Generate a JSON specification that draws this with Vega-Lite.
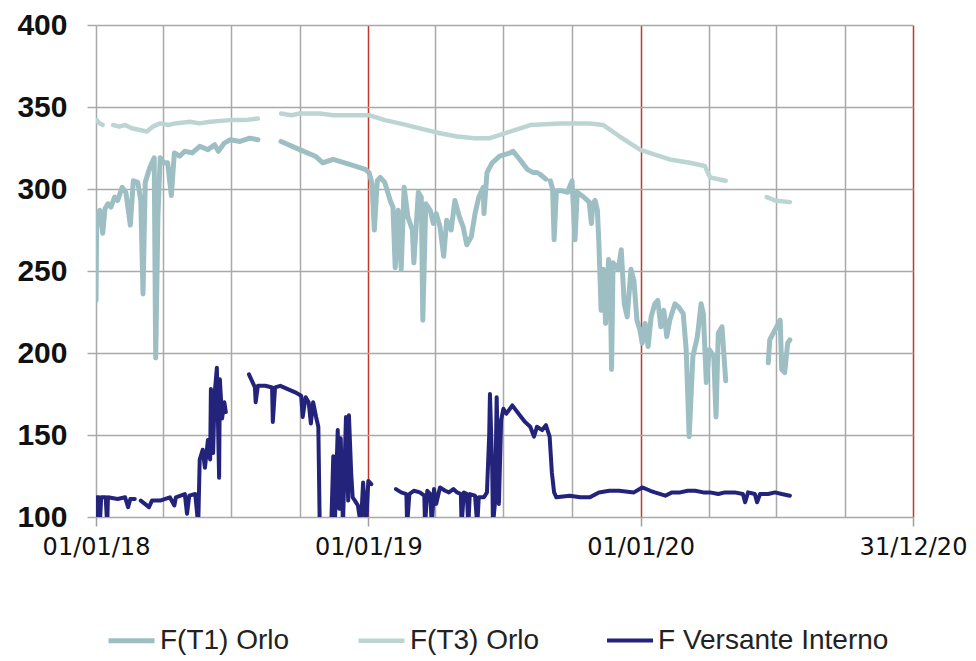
{
  "$schema": "https://vega.github.io/schema/vega-lite/v6.json",
  "width": 817,
  "height": 492,
  "autosize": {"type": "none"},
  "padding": {"left": 96, "top": 25, "right": 63, "bottom": 144},
  "background": "white",
  "config": {"view": {"stroke": null}},
  "datasets": {
    "rows": [
      {"s": "F(T1) Orlo", "d": "2018-01-01", "v": 232},
      {"s": "F(T1) Orlo", "d": "2018-01-02", "v": 283},
      {"s": "F(T1) Orlo", "d": "2018-01-06", "v": 287},
      {"s": "F(T1) Orlo", "d": "2018-01-10", "v": 273},
      {"s": "F(T1) Orlo", "d": "2018-01-13", "v": 288},
      {"s": "F(T1) Orlo", "d": "2018-01-17", "v": 291},
      {"s": "F(T1) Orlo", "d": "2018-01-21", "v": 289},
      {"s": "F(T1) Orlo", "d": "2018-01-26", "v": 295},
      {"s": "F(T1) Orlo", "d": "2018-01-30", "v": 293},
      {"s": "F(T1) Orlo", "d": "2018-02-05", "v": 301},
      {"s": "F(T1) Orlo", "d": "2018-02-10", "v": 298},
      {"s": "F(T1) Orlo", "d": "2018-02-16", "v": 278},
      {"s": "F(T1) Orlo", "d": "2018-02-20", "v": 305},
      {"s": "F(T1) Orlo", "d": "2018-02-26", "v": 304},
      {"s": "F(T1) Orlo", "d": "2018-03-02", "v": 293},
      {"s": "F(T1) Orlo", "d": "2018-03-05", "v": 236},
      {"s": "F(T1) Orlo", "d": "2018-03-08", "v": 304},
      {"s": "F(T1) Orlo", "d": "2018-03-14", "v": 313},
      {"s": "F(T1) Orlo", "d": "2018-03-20", "v": 319},
      {"s": "F(T1) Orlo", "d": "2018-03-22", "v": 197},
      {"s": "F(T1) Orlo", "d": "2018-03-25", "v": 283},
      {"s": "F(T1) Orlo", "d": "2018-03-28", "v": 319},
      {"s": "F(T1) Orlo", "d": "2018-04-02", "v": 316},
      {"s": "F(T1) Orlo", "d": "2018-04-07", "v": 316},
      {"s": "F(T1) Orlo", "d": "2018-04-12", "v": 296},
      {"s": "F(T1) Orlo", "d": "2018-04-16", "v": 322},
      {"s": "F(T1) Orlo", "d": "2018-04-23", "v": 320},
      {"s": "F(T1) Orlo", "d": "2018-04-30", "v": 323},
      {"s": "F(T1) Orlo", "d": "2018-05-10", "v": 322},
      {"s": "F(T1) Orlo", "d": "2018-05-20", "v": 326},
      {"s": "F(T1) Orlo", "d": "2018-05-31", "v": 324},
      {"s": "F(T1) Orlo", "d": "2018-06-09", "v": 327},
      {"s": "F(T1) Orlo", "d": "2018-06-14", "v": 323},
      {"s": "F(T1) Orlo", "d": "2018-06-22", "v": 328},
      {"s": "F(T1) Orlo", "d": "2018-06-30", "v": 330},
      {"s": "F(T1) Orlo", "d": "2018-07-13", "v": 329},
      {"s": "F(T1) Orlo", "d": "2018-07-26", "v": 331},
      {"s": "F(T1) Orlo", "d": "2018-08-06", "v": 330},
      {"s": "F(T1) Orlo", "d": "2018-08-19", "v": null},
      {"s": "F(T1) Orlo", "d": "2018-09-06", "v": 329},
      {"s": "F(T1) Orlo", "d": "2018-10-01", "v": 324},
      {"s": "F(T1) Orlo", "d": "2018-10-22", "v": 320},
      {"s": "F(T1) Orlo", "d": "2018-11-01", "v": 316},
      {"s": "F(T1) Orlo", "d": "2018-11-15", "v": 318},
      {"s": "F(T1) Orlo", "d": "2018-12-07", "v": 315},
      {"s": "F(T1) Orlo", "d": "2018-12-28", "v": 312},
      {"s": "F(T1) Orlo", "d": "2019-01-02", "v": 310},
      {"s": "F(T1) Orlo", "d": "2019-01-05", "v": 305},
      {"s": "F(T1) Orlo", "d": "2019-01-06", "v": 302},
      {"s": "F(T1) Orlo", "d": "2019-01-09", "v": 275},
      {"s": "F(T1) Orlo", "d": "2019-01-13", "v": 305},
      {"s": "F(T1) Orlo", "d": "2019-01-17", "v": 307},
      {"s": "F(T1) Orlo", "d": "2019-01-23", "v": 304},
      {"s": "F(T1) Orlo", "d": "2019-01-27", "v": 298},
      {"s": "F(T1) Orlo", "d": "2019-01-31", "v": 292},
      {"s": "F(T1) Orlo", "d": "2019-02-03", "v": 289},
      {"s": "F(T1) Orlo", "d": "2019-02-06", "v": 252},
      {"s": "F(T1) Orlo", "d": "2019-02-10", "v": 287},
      {"s": "F(T1) Orlo", "d": "2019-02-14", "v": 251},
      {"s": "F(T1) Orlo", "d": "2019-02-18", "v": 301},
      {"s": "F(T1) Orlo", "d": "2019-02-23", "v": 283},
      {"s": "F(T1) Orlo", "d": "2019-03-01", "v": 275},
      {"s": "F(T1) Orlo", "d": "2019-03-03", "v": 255},
      {"s": "F(T1) Orlo", "d": "2019-03-09", "v": 298},
      {"s": "F(T1) Orlo", "d": "2019-03-13", "v": 295},
      {"s": "F(T1) Orlo", "d": "2019-03-15", "v": 220},
      {"s": "F(T1) Orlo", "d": "2019-03-19", "v": 291},
      {"s": "F(T1) Orlo", "d": "2019-03-25", "v": 287},
      {"s": "F(T1) Orlo", "d": "2019-03-29", "v": 279},
      {"s": "F(T1) Orlo", "d": "2019-04-02", "v": 285},
      {"s": "F(T1) Orlo", "d": "2019-04-07", "v": 277},
      {"s": "F(T1) Orlo", "d": "2019-04-12", "v": 259},
      {"s": "F(T1) Orlo", "d": "2019-04-16", "v": 281},
      {"s": "F(T1) Orlo", "d": "2019-04-22", "v": 275},
      {"s": "F(T1) Orlo", "d": "2019-04-27", "v": 293},
      {"s": "F(T1) Orlo", "d": "2019-05-03", "v": 283},
      {"s": "F(T1) Orlo", "d": "2019-05-08", "v": 277},
      {"s": "F(T1) Orlo", "d": "2019-05-13", "v": 266},
      {"s": "F(T1) Orlo", "d": "2019-05-19", "v": 271},
      {"s": "F(T1) Orlo", "d": "2019-05-24", "v": 285},
      {"s": "F(T1) Orlo", "d": "2019-05-29", "v": 295},
      {"s": "F(T1) Orlo", "d": "2019-06-04", "v": 301},
      {"s": "F(T1) Orlo", "d": "2019-06-05", "v": 285},
      {"s": "F(T1) Orlo", "d": "2019-06-09", "v": 310},
      {"s": "F(T1) Orlo", "d": "2019-06-16", "v": 316},
      {"s": "F(T1) Orlo", "d": "2019-06-26", "v": 320},
      {"s": "F(T1) Orlo", "d": "2019-07-10", "v": 322},
      {"s": "F(T1) Orlo", "d": "2019-07-14", "v": 323},
      {"s": "F(T1) Orlo", "d": "2019-07-23", "v": 318},
      {"s": "F(T1) Orlo", "d": "2019-08-02", "v": 312},
      {"s": "F(T1) Orlo", "d": "2019-08-10", "v": 310},
      {"s": "F(T1) Orlo", "d": "2019-08-15", "v": 310},
      {"s": "F(T1) Orlo", "d": "2019-08-17", "v": null},
      {"s": "F(T1) Orlo", "d": "2019-08-19", "v": 309},
      {"s": "F(T1) Orlo", "d": "2019-08-27", "v": 306},
      {"s": "F(T1) Orlo", "d": "2019-08-30", "v": null},
      {"s": "F(T1) Orlo", "d": "2019-09-02", "v": 305},
      {"s": "F(T1) Orlo", "d": "2019-09-05", "v": 300},
      {"s": "F(T1) Orlo", "d": "2019-09-07", "v": 269},
      {"s": "F(T1) Orlo", "d": "2019-09-10", "v": 299},
      {"s": "F(T1) Orlo", "d": "2019-09-17", "v": 299},
      {"s": "F(T1) Orlo", "d": "2019-09-25", "v": 298},
      {"s": "F(T1) Orlo", "d": "2019-10-01", "v": 305},
      {"s": "F(T1) Orlo", "d": "2019-10-05", "v": 269},
      {"s": "F(T1) Orlo", "d": "2019-10-08", "v": 298},
      {"s": "F(T1) Orlo", "d": "2019-10-17", "v": 295},
      {"s": "F(T1) Orlo", "d": "2019-10-24", "v": 292},
      {"s": "F(T1) Orlo", "d": "2019-10-27", "v": 279},
      {"s": "F(T1) Orlo", "d": "2019-10-29", "v": 291},
      {"s": "F(T1) Orlo", "d": "2019-11-01", "v": 293},
      {"s": "F(T1) Orlo", "d": "2019-11-04", "v": 287},
      {"s": "F(T1) Orlo", "d": "2019-11-06", "v": 267},
      {"s": "F(T1) Orlo", "d": "2019-11-09", "v": 226},
      {"s": "F(T1) Orlo", "d": "2019-11-12", "v": 251},
      {"s": "F(T1) Orlo", "d": "2019-11-15", "v": 218},
      {"s": "F(T1) Orlo", "d": "2019-11-19", "v": 257},
      {"s": "F(T1) Orlo", "d": "2019-11-21", "v": 251},
      {"s": "F(T1) Orlo", "d": "2019-11-23", "v": 190},
      {"s": "F(T1) Orlo", "d": "2019-11-25", "v": 255},
      {"s": "F(T1) Orlo", "d": "2019-12-02", "v": 251},
      {"s": "F(T1) Orlo", "d": "2019-12-06", "v": 263},
      {"s": "F(T1) Orlo", "d": "2019-12-10", "v": 230},
      {"s": "F(T1) Orlo", "d": "2019-12-14", "v": 222},
      {"s": "F(T1) Orlo", "d": "2019-12-19", "v": 251},
      {"s": "F(T1) Orlo", "d": "2019-12-23", "v": 244},
      {"s": "F(T1) Orlo", "d": "2019-12-27", "v": 220},
      {"s": "F(T1) Orlo", "d": "2019-12-31", "v": 214},
      {"s": "F(T1) Orlo", "d": "2020-01-03", "v": 206},
      {"s": "F(T1) Orlo", "d": "2020-01-07", "v": 218},
      {"s": "F(T1) Orlo", "d": "2020-01-11", "v": 204},
      {"s": "F(T1) Orlo", "d": "2020-01-15", "v": 222},
      {"s": "F(T1) Orlo", "d": "2020-01-20", "v": 230},
      {"s": "F(T1) Orlo", "d": "2020-01-24", "v": 232},
      {"s": "F(T1) Orlo", "d": "2020-01-28", "v": 216},
      {"s": "F(T1) Orlo", "d": "2020-02-01", "v": 226},
      {"s": "F(T1) Orlo", "d": "2020-02-05", "v": 210},
      {"s": "F(T1) Orlo", "d": "2020-02-09", "v": 220},
      {"s": "F(T1) Orlo", "d": "2020-02-16", "v": 230},
      {"s": "F(T1) Orlo", "d": "2020-02-21", "v": 228},
      {"s": "F(T1) Orlo", "d": "2020-02-27", "v": 224},
      {"s": "F(T1) Orlo", "d": "2020-03-02", "v": 202},
      {"s": "F(T1) Orlo", "d": "2020-03-06", "v": 149},
      {"s": "F(T1) Orlo", "d": "2020-03-11", "v": 198},
      {"s": "F(T1) Orlo", "d": "2020-03-17", "v": 210},
      {"s": "F(T1) Orlo", "d": "2020-03-22", "v": 230},
      {"s": "F(T1) Orlo", "d": "2020-03-25", "v": 224},
      {"s": "F(T1) Orlo", "d": "2020-03-29", "v": 182},
      {"s": "F(T1) Orlo", "d": "2020-04-02", "v": 202},
      {"s": "F(T1) Orlo", "d": "2020-04-08", "v": 198},
      {"s": "F(T1) Orlo", "d": "2020-04-11", "v": 161},
      {"s": "F(T1) Orlo", "d": "2020-04-14", "v": 212},
      {"s": "F(T1) Orlo", "d": "2020-04-19", "v": 216},
      {"s": "F(T1) Orlo", "d": "2020-04-24", "v": 183},
      {"s": "F(T1) Orlo", "d": "2020-05-20", "v": null},
      {"s": "F(T1) Orlo", "d": "2020-06-20", "v": 194},
      {"s": "F(T1) Orlo", "d": "2020-06-22", "v": 208},
      {"s": "F(T1) Orlo", "d": "2020-06-29", "v": 214},
      {"s": "F(T1) Orlo", "d": "2020-07-06", "v": 220},
      {"s": "F(T1) Orlo", "d": "2020-07-08", "v": 190},
      {"s": "F(T1) Orlo", "d": "2020-07-12", "v": 188},
      {"s": "F(T1) Orlo", "d": "2020-07-16", "v": 206},
      {"s": "F(T1) Orlo", "d": "2020-07-19", "v": 208},

      {"s": "F(T3) Orlo", "d": "2018-01-02", "v": 342},
      {"s": "F(T3) Orlo", "d": "2018-01-06", "v": 340},
      {"s": "F(T3) Orlo", "d": "2018-01-10", "v": 339},
      {"s": "F(T3) Orlo", "d": "2018-01-15", "v": null},
      {"s": "F(T3) Orlo", "d": "2018-01-24", "v": 339},
      {"s": "F(T3) Orlo", "d": "2018-02-01", "v": 338},
      {"s": "F(T3) Orlo", "d": "2018-02-09", "v": 339},
      {"s": "F(T3) Orlo", "d": "2018-02-18", "v": 337},
      {"s": "F(T3) Orlo", "d": "2018-03-01", "v": 336},
      {"s": "F(T3) Orlo", "d": "2018-03-10", "v": 335},
      {"s": "F(T3) Orlo", "d": "2018-03-18", "v": 338},
      {"s": "F(T3) Orlo", "d": "2018-03-28", "v": 340},
      {"s": "F(T3) Orlo", "d": "2018-04-08", "v": 339},
      {"s": "F(T3) Orlo", "d": "2018-04-17", "v": 340},
      {"s": "F(T3) Orlo", "d": "2018-05-07", "v": 341},
      {"s": "F(T3) Orlo", "d": "2018-05-20", "v": 340},
      {"s": "F(T3) Orlo", "d": "2018-06-03", "v": 341},
      {"s": "F(T3) Orlo", "d": "2018-06-30", "v": 342},
      {"s": "F(T3) Orlo", "d": "2018-07-20", "v": 342},
      {"s": "F(T3) Orlo", "d": "2018-08-06", "v": 343},
      {"s": "F(T3) Orlo", "d": "2018-08-19", "v": null},
      {"s": "F(T3) Orlo", "d": "2018-09-06", "v": 346},
      {"s": "F(T3) Orlo", "d": "2018-09-20", "v": 345},
      {"s": "F(T3) Orlo", "d": "2018-10-01", "v": 346},
      {"s": "F(T3) Orlo", "d": "2018-10-28", "v": 346},
      {"s": "F(T3) Orlo", "d": "2018-11-15", "v": 345},
      {"s": "F(T3) Orlo", "d": "2018-12-01", "v": 345},
      {"s": "F(T3) Orlo", "d": "2019-01-02", "v": 345},
      {"s": "F(T3) Orlo", "d": "2019-01-23", "v": 342},
      {"s": "F(T3) Orlo", "d": "2019-02-12", "v": 340},
      {"s": "F(T3) Orlo", "d": "2019-03-11", "v": 337},
      {"s": "F(T3) Orlo", "d": "2019-04-07", "v": 334},
      {"s": "F(T3) Orlo", "d": "2019-04-30", "v": 332},
      {"s": "F(T3) Orlo", "d": "2019-05-24", "v": 331},
      {"s": "F(T3) Orlo", "d": "2019-06-13", "v": 331},
      {"s": "F(T3) Orlo", "d": "2019-07-10", "v": 335},
      {"s": "F(T3) Orlo", "d": "2019-08-06", "v": 339},
      {"s": "F(T3) Orlo", "d": "2019-09-15", "v": 340},
      {"s": "F(T3) Orlo", "d": "2019-10-05", "v": 340},
      {"s": "F(T3) Orlo", "d": "2019-10-25", "v": 340},
      {"s": "F(T3) Orlo", "d": "2019-11-12", "v": 339},
      {"s": "F(T3) Orlo", "d": "2019-12-04", "v": 332},
      {"s": "F(T3) Orlo", "d": "2019-12-31", "v": 324},
      {"s": "F(T3) Orlo", "d": "2020-01-20", "v": 321},
      {"s": "F(T3) Orlo", "d": "2020-02-09", "v": 318},
      {"s": "F(T3) Orlo", "d": "2020-03-07", "v": 316},
      {"s": "F(T3) Orlo", "d": "2020-03-27", "v": 314},
      {"s": "F(T3) Orlo", "d": "2020-04-03", "v": 307},
      {"s": "F(T3) Orlo", "d": "2020-04-24", "v": 305},
      {"s": "F(T3) Orlo", "d": "2020-05-20", "v": null},
      {"s": "F(T3) Orlo", "d": "2020-06-18", "v": 295},
      {"s": "F(T3) Orlo", "d": "2020-06-29", "v": 293},
      {"s": "F(T3) Orlo", "d": "2020-07-19", "v": 292},

      {"s": "F Versante Interno", "d": "2018-01-01", "v": 98},
      {"s": "F Versante Interno", "d": "2018-01-02", "v": 112},
      {"s": "F Versante Interno", "d": "2018-01-05", "v": 112},
      {"s": "F Versante Interno", "d": "2018-01-06", "v": 95},
      {"s": "F Versante Interno", "d": "2018-01-08", "v": 112},
      {"s": "F Versante Interno", "d": "2018-01-14", "v": 112},
      {"s": "F Versante Interno", "d": "2018-01-16", "v": 95},
      {"s": "F Versante Interno", "d": "2018-01-17", "v": 112},
      {"s": "F Versante Interno", "d": "2018-01-30", "v": 111},
      {"s": "F Versante Interno", "d": "2018-02-09", "v": 112},
      {"s": "F Versante Interno", "d": "2018-02-13", "v": 106},
      {"s": "F Versante Interno", "d": "2018-02-16", "v": 111},
      {"s": "F Versante Interno", "d": "2018-02-22", "v": 111},
      {"s": "F Versante Interno", "d": "2018-02-25", "v": null},
      {"s": "F Versante Interno", "d": "2018-03-02", "v": 110},
      {"s": "F Versante Interno", "d": "2018-03-13", "v": 106},
      {"s": "F Versante Interno", "d": "2018-03-17", "v": 110},
      {"s": "F Versante Interno", "d": "2018-03-28", "v": 110},
      {"s": "F Versante Interno", "d": "2018-04-10", "v": 112},
      {"s": "F Versante Interno", "d": "2018-04-16", "v": 107},
      {"s": "F Versante Interno", "d": "2018-04-18", "v": 112},
      {"s": "F Versante Interno", "d": "2018-04-30", "v": 114},
      {"s": "F Versante Interno", "d": "2018-05-03", "v": 102},
      {"s": "F Versante Interno", "d": "2018-05-06", "v": 113},
      {"s": "F Versante Interno", "d": "2018-05-14", "v": 114},
      {"s": "F Versante Interno", "d": "2018-05-18", "v": 95},
      {"s": "F Versante Interno", "d": "2018-05-20", "v": 135},
      {"s": "F Versante Interno", "d": "2018-05-24", "v": 141},
      {"s": "F Versante Interno", "d": "2018-05-27", "v": 130},
      {"s": "F Versante Interno", "d": "2018-05-31", "v": 147},
      {"s": "F Versante Interno", "d": "2018-06-03", "v": 135},
      {"s": "F Versante Interno", "d": "2018-06-04", "v": 178},
      {"s": "F Versante Interno", "d": "2018-06-07", "v": 139},
      {"s": "F Versante Interno", "d": "2018-06-09", "v": 175},
      {"s": "F Versante Interno", "d": "2018-06-12", "v": 191},
      {"s": "F Versante Interno", "d": "2018-06-15", "v": 124},
      {"s": "F Versante Interno", "d": "2018-06-16", "v": 184},
      {"s": "F Versante Interno", "d": "2018-06-19", "v": 160},
      {"s": "F Versante Interno", "d": "2018-06-22", "v": 170},
      {"s": "F Versante Interno", "d": "2018-06-24", "v": 164},
      {"s": "F Versante Interno", "d": "2018-07-10", "v": null},
      {"s": "F Versante Interno", "d": "2018-07-25", "v": 187},
      {"s": "F Versante Interno", "d": "2018-07-29", "v": 183},
      {"s": "F Versante Interno", "d": "2018-08-02", "v": 179},
      {"s": "F Versante Interno", "d": "2018-08-03", "v": 170},
      {"s": "F Versante Interno", "d": "2018-08-06", "v": 180},
      {"s": "F Versante Interno", "d": "2018-08-16", "v": 180},
      {"s": "F Versante Interno", "d": "2018-08-25", "v": 179},
      {"s": "F Versante Interno", "d": "2018-08-26", "v": 158},
      {"s": "F Versante Interno", "d": "2018-08-29", "v": 179},
      {"s": "F Versante Interno", "d": "2018-09-05", "v": 180},
      {"s": "F Versante Interno", "d": "2018-09-15", "v": 178},
      {"s": "F Versante Interno", "d": "2018-09-25", "v": 176},
      {"s": "F Versante Interno", "d": "2018-10-03", "v": 174},
      {"s": "F Versante Interno", "d": "2018-10-05", "v": 161},
      {"s": "F Versante Interno", "d": "2018-10-09", "v": 173},
      {"s": "F Versante Interno", "d": "2018-10-13", "v": 170},
      {"s": "F Versante Interno", "d": "2018-10-16", "v": 157},
      {"s": "F Versante Interno", "d": "2018-10-19", "v": 170},
      {"s": "F Versante Interno", "d": "2018-10-23", "v": 161},
      {"s": "F Versante Interno", "d": "2018-10-26", "v": 155},
      {"s": "F Versante Interno", "d": "2018-10-28", "v": 90},
      {"s": "F Versante Interno", "d": "2018-11-12", "v": 90},
      {"s": "F Versante Interno", "d": "2018-11-15", "v": 137},
      {"s": "F Versante Interno", "d": "2018-11-17", "v": 95},
      {"s": "F Versante Interno", "d": "2018-11-21", "v": 153},
      {"s": "F Versante Interno", "d": "2018-11-23", "v": 105},
      {"s": "F Versante Interno", "d": "2018-11-25", "v": 148},
      {"s": "F Versante Interno", "d": "2018-11-28", "v": 95},
      {"s": "F Versante Interno", "d": "2018-12-02", "v": 161},
      {"s": "F Versante Interno", "d": "2018-12-05", "v": 110},
      {"s": "F Versante Interno", "d": "2018-12-06", "v": 162},
      {"s": "F Versante Interno", "d": "2018-12-09", "v": 127},
      {"s": "F Versante Interno", "d": "2018-12-11", "v": 112},
      {"s": "F Versante Interno", "d": "2018-12-14", "v": 110},
      {"s": "F Versante Interno", "d": "2018-12-18", "v": 107},
      {"s": "F Versante Interno", "d": "2018-12-22", "v": 95},
      {"s": "F Versante Interno", "d": "2018-12-25", "v": 121},
      {"s": "F Versante Interno", "d": "2018-12-29", "v": 95},
      {"s": "F Versante Interno", "d": "2019-01-01", "v": 122},
      {"s": "F Versante Interno", "d": "2019-01-05", "v": 120},
      {"s": "F Versante Interno", "d": "2019-01-16", "v": null},
      {"s": "F Versante Interno", "d": "2019-02-07", "v": 117},
      {"s": "F Versante Interno", "d": "2019-02-14", "v": 115},
      {"s": "F Versante Interno", "d": "2019-02-21", "v": 114},
      {"s": "F Versante Interno", "d": "2019-02-22", "v": 95},
      {"s": "F Versante Interno", "d": "2019-02-25", "v": 114},
      {"s": "F Versante Interno", "d": "2019-03-03", "v": 116},
      {"s": "F Versante Interno", "d": "2019-03-11", "v": 115},
      {"s": "F Versante Interno", "d": "2019-03-17", "v": 113},
      {"s": "F Versante Interno", "d": "2019-03-18", "v": 95},
      {"s": "F Versante Interno", "d": "2019-03-21", "v": 116},
      {"s": "F Versante Interno", "d": "2019-03-25", "v": 114},
      {"s": "F Versante Interno", "d": "2019-03-27", "v": 95},
      {"s": "F Versante Interno", "d": "2019-03-30", "v": 117},
      {"s": "F Versante Interno", "d": "2019-04-02", "v": 108},
      {"s": "F Versante Interno", "d": "2019-04-07", "v": 118},
      {"s": "F Versante Interno", "d": "2019-04-14", "v": 116},
      {"s": "F Versante Interno", "d": "2019-04-19", "v": 115},
      {"s": "F Versante Interno", "d": "2019-04-25", "v": 117},
      {"s": "F Versante Interno", "d": "2019-04-30", "v": 115},
      {"s": "F Versante Interno", "d": "2019-05-05", "v": 114},
      {"s": "F Versante Interno", "d": "2019-05-06", "v": 95},
      {"s": "F Versante Interno", "d": "2019-05-09", "v": 115},
      {"s": "F Versante Interno", "d": "2019-05-13", "v": 114},
      {"s": "F Versante Interno", "d": "2019-05-15", "v": 95},
      {"s": "F Versante Interno", "d": "2019-05-17", "v": 114},
      {"s": "F Versante Interno", "d": "2019-05-24", "v": 113},
      {"s": "F Versante Interno", "d": "2019-05-27", "v": 95},
      {"s": "F Versante Interno", "d": "2019-05-29", "v": 112},
      {"s": "F Versante Interno", "d": "2019-06-05", "v": 112},
      {"s": "F Versante Interno", "d": "2019-06-09", "v": 115},
      {"s": "F Versante Interno", "d": "2019-06-12", "v": 150},
      {"s": "F Versante Interno", "d": "2019-06-13", "v": 175},
      {"s": "F Versante Interno", "d": "2019-06-16", "v": 130},
      {"s": "F Versante Interno", "d": "2019-06-17", "v": 95},
      {"s": "F Versante Interno", "d": "2019-06-20", "v": 110},
      {"s": "F Versante Interno", "d": "2019-06-22", "v": 173},
      {"s": "F Versante Interno", "d": "2019-06-25", "v": 108},
      {"s": "F Versante Interno", "d": "2019-06-28", "v": 159},
      {"s": "F Versante Interno", "d": "2019-07-01", "v": 166},
      {"s": "F Versante Interno", "d": "2019-07-05", "v": 163},
      {"s": "F Versante Interno", "d": "2019-07-13", "v": 168},
      {"s": "F Versante Interno", "d": "2019-07-18", "v": 165},
      {"s": "F Versante Interno", "d": "2019-07-23", "v": 162},
      {"s": "F Versante Interno", "d": "2019-07-30", "v": 158},
      {"s": "F Versante Interno", "d": "2019-08-06", "v": 155},
      {"s": "F Versante Interno", "d": "2019-08-11", "v": 149},
      {"s": "F Versante Interno", "d": "2019-08-15", "v": 155},
      {"s": "F Versante Interno", "d": "2019-08-22", "v": 153},
      {"s": "F Versante Interno", "d": "2019-08-27", "v": 156},
      {"s": "F Versante Interno", "d": "2019-09-01", "v": 149},
      {"s": "F Versante Interno", "d": "2019-09-04", "v": 127},
      {"s": "F Versante Interno", "d": "2019-09-07", "v": 115},
      {"s": "F Versante Interno", "d": "2019-09-10", "v": 112},
      {"s": "F Versante Interno", "d": "2019-09-28", "v": 113},
      {"s": "F Versante Interno", "d": "2019-10-12", "v": 112},
      {"s": "F Versante Interno", "d": "2019-10-25", "v": 112},
      {"s": "F Versante Interno", "d": "2019-11-06", "v": 115},
      {"s": "F Versante Interno", "d": "2019-11-20", "v": 116},
      {"s": "F Versante Interno", "d": "2019-12-03", "v": 116},
      {"s": "F Versante Interno", "d": "2019-12-23", "v": 115},
      {"s": "F Versante Interno", "d": "2020-01-03", "v": 118},
      {"s": "F Versante Interno", "d": "2020-01-14", "v": 116},
      {"s": "F Versante Interno", "d": "2020-01-20", "v": 115},
      {"s": "F Versante Interno", "d": "2020-02-03", "v": 113},
      {"s": "F Versante Interno", "d": "2020-02-12", "v": 115},
      {"s": "F Versante Interno", "d": "2020-02-23", "v": 115},
      {"s": "F Versante Interno", "d": "2020-03-04", "v": 116},
      {"s": "F Versante Interno", "d": "2020-03-14", "v": 116},
      {"s": "F Versante Interno", "d": "2020-03-25", "v": 115},
      {"s": "F Versante Interno", "d": "2020-04-03", "v": 115},
      {"s": "F Versante Interno", "d": "2020-04-14", "v": 114},
      {"s": "F Versante Interno", "d": "2020-04-23", "v": 115},
      {"s": "F Versante Interno", "d": "2020-05-06", "v": 115},
      {"s": "F Versante Interno", "d": "2020-05-17", "v": 114},
      {"s": "F Versante Interno", "d": "2020-05-20", "v": 109},
      {"s": "F Versante Interno", "d": "2020-05-24", "v": 115},
      {"s": "F Versante Interno", "d": "2020-06-02", "v": 114},
      {"s": "F Versante Interno", "d": "2020-06-05", "v": 109},
      {"s": "F Versante Interno", "d": "2020-06-09", "v": 114},
      {"s": "F Versante Interno", "d": "2020-06-20", "v": 114},
      {"s": "F Versante Interno", "d": "2020-06-29", "v": 115},
      {"s": "F Versante Interno", "d": "2020-07-08", "v": 114},
      {"s": "F Versante Interno", "d": "2020-07-19", "v": 113}
    ]
  },
  "data": {"name": "rows"},
  "mark": {"type": "line", "clip": true, "strokeJoin": "round", "strokeCap": "round"},
  "encoding": {
    "x": {
      "field": "d",
      "type": "temporal",
      "scale": {"domain": [{"year": 2018, "month": 1, "date": 1}, {"year": 2020, "month": 12, "date": 31}]},
      "axis": {
        "title": null,
        "values": [
          {"year": 2018, "month": 1, "date": 1}, {"year": 2018, "month": 4, "date": 1}, {"year": 2018, "month": 7, "date": 1}, {"year": 2018, "month": 10, "date": 1},
          {"year": 2019, "month": 1, "date": 1}, {"year": 2019, "month": 4, "date": 1}, {"year": 2019, "month": 7, "date": 1}, {"year": 2019, "month": 10, "date": 1},
          {"year": 2020, "month": 1, "date": 1}, {"year": 2020, "month": 4, "date": 1}, {"year": 2020, "month": 7, "date": 1}, {"year": 2020, "month": 10, "date": 1},
          {"year": 2020, "month": 12, "date": 31}
        ],
        "labelExpr": "(month(datum.value) == 0 && date(datum.value) == 1) || month(datum.value) == 11 ? timeFormat(datum.value, '%d/%m/%y') : ''",
        "labelOverlap": false,
        "labelFlush": false,
        "labelFont": "DejaVu Sans",
        "labelFontSize": 24,
        "labelColor": "#111111",
        "labelPadding": 9,
        "tickSize": 9,
        "tickWidth": 1.5,
        "tickColor": {"condition": {"test": "month(datum.value) == 0 || month(datum.value) == 11", "value": "#a0a0a0"}, "value": "transparent"},
        "domain": false,
        "grid": true,
        "gridColor": {"condition": {"test": "year(datum.value) >= 2019 && (month(datum.value) == 0 || month(datum.value) == 11)", "value": "#c0392b"}, "value": "#a9a9a9"},
        "gridWidth": 1.5
      }
    },
    "y": {
      "field": "v",
      "type": "quantitative",
      "scale": {"domain": [100, 400], "nice": false, "zero": false},
      "axis": {
        "title": null,
        "values": [100, 150, 200, 250, 300, 350, 400],
        "labelFont": "Liberation Sans",
        "labelFontWeight": "bold",
        "labelFontSize": 30,
        "labelColor": "#111111",
        "labelPadding": 20,
        "labelFlush": false,
        "tickSize": 9,
        "tickWidth": 1.5,
        "tickColor": "#a9a9a9",
        "domain": false,
        "grid": true,
        "gridColor": "#a9a9a9",
        "gridWidth": 1.5
      }
    },
    "color": {
      "field": "s",
      "type": "nominal",
      "scale": {"domain": ["F(T1) Orlo", "F(T3) Orlo", "F Versante Interno"], "range": ["#9dbfc4", "#bdd5d2", "#23237c"]},
      "legend": {
        "title": null,
        "orient": "none",
        "direction": "horizontal",
        "legendX": 10,
        "legendY": 590,
        "symbolType": "stroke",
        "symbolSize": 2116,
        "symbolStrokeWidth": 4,
        "labelFont": "Liberation Sans",
        "labelFontSize": 28,
        "labelColor": "#222222",
        "labelOffset": 3,
        "labelLimit": 400,
        "columnPadding": 59
      }
    },
    "strokeWidth": {
      "field": "s",
      "type": "nominal",
      "scale": {"domain": ["F(T1) Orlo", "F(T3) Orlo", "F Versante Interno"], "range": [5, 4, 4.5]},
      "legend": null
    }
  }
}
